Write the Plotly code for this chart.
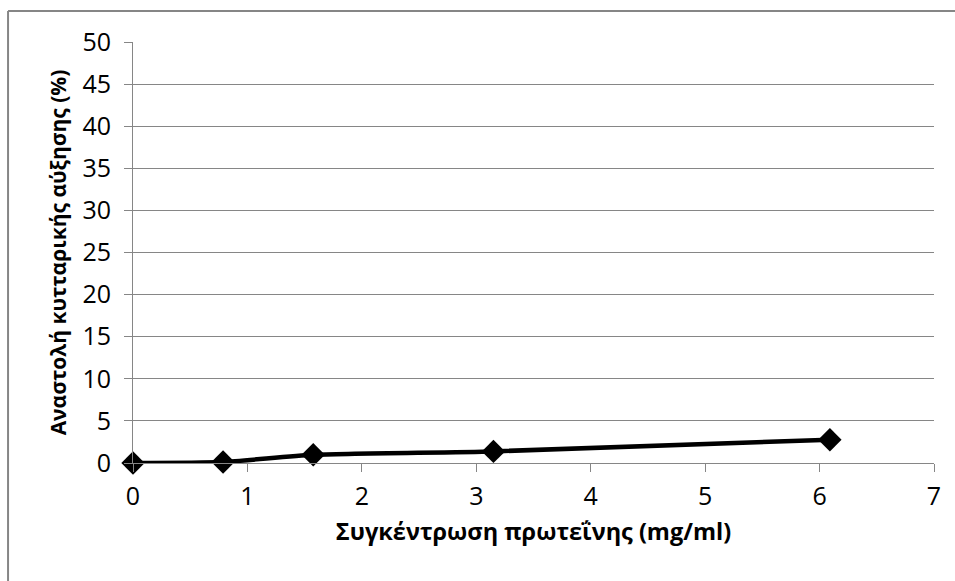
import plotly.graph_objects as go

x_conc = [0, 0.787, 1.575, 3.15, 6.09]
y_inhib = [0, 0.12, 0.98, 1.38, 2.77]
x_ticks = [0, 1, 2, 3, 4, 5, 6, 7]
y_ticks = [0, 5, 10, 15, 20, 25, 30, 35, 40, 45, 50]
x_title = "Συγκέντρωση πρωτεΐνης (mg/ml)"
y_title = "Αναστολή κυτταρικής αύξησης (%)"

FONT = "Open Sans, sans-serif"
GRID = "#868686"

fig = go.Figure()
fig.add_trace(go.Scatter(
    x=x_conc, y=y_inhib, mode="lines+markers",
    line=dict(color="black", width=4.5, shape="spline", smoothing=0.6),
    marker=dict(symbol="diamond", size=18, color="black"),
    showlegend=False, cliponaxis=False,
))

fig.update_layout(
    width=955, height=581,
    margin=dict(l=133, r=21, t=42, b=118),
    paper_bgcolor="white", plot_bgcolor="white",
    font=dict(family=FONT, size=25, color="black"),
    xaxis=dict(
        range=[0, 7], tickvals=x_ticks, showgrid=False, zeroline=False,
        showline=True, linecolor=GRID, linewidth=1,
        ticks="outside", ticklen=8, tickcolor=GRID, tickwidth=1,
        tickfont=dict(size=25), ticklabelstandoff=3,
        title=dict(text="<b>" + x_title + "</b>", font=dict(size=23.5), standoff=12),
    ),
    yaxis=dict(
        range=[0, 50], tickvals=y_ticks, showgrid=True, gridcolor=GRID, gridwidth=1,
        zeroline=False, showline=True, linecolor=GRID, linewidth=1,
        ticks="outside", ticklen=8, tickcolor=GRID, tickwidth=1,
        tickfont=dict(size=25), ticklabelstandoff=8,
        title=dict(text="<b>" + y_title + "</b>", font=dict(size=21), standoff=10),
    ),
    shapes=[
        dict(type="line", xref="paper", yref="paper", x0=-0.156, x1=-0.156,
             y0=1.0736, y1=-0.3, line=dict(color=GRID, width=2)),
        dict(type="line", xref="paper", yref="paper", x0=-0.156, x1=1.05,
             y0=1.0736, y1=1.0736, line=dict(color=GRID, width=2)),
    ],
)

fig.write_html("out.html")
